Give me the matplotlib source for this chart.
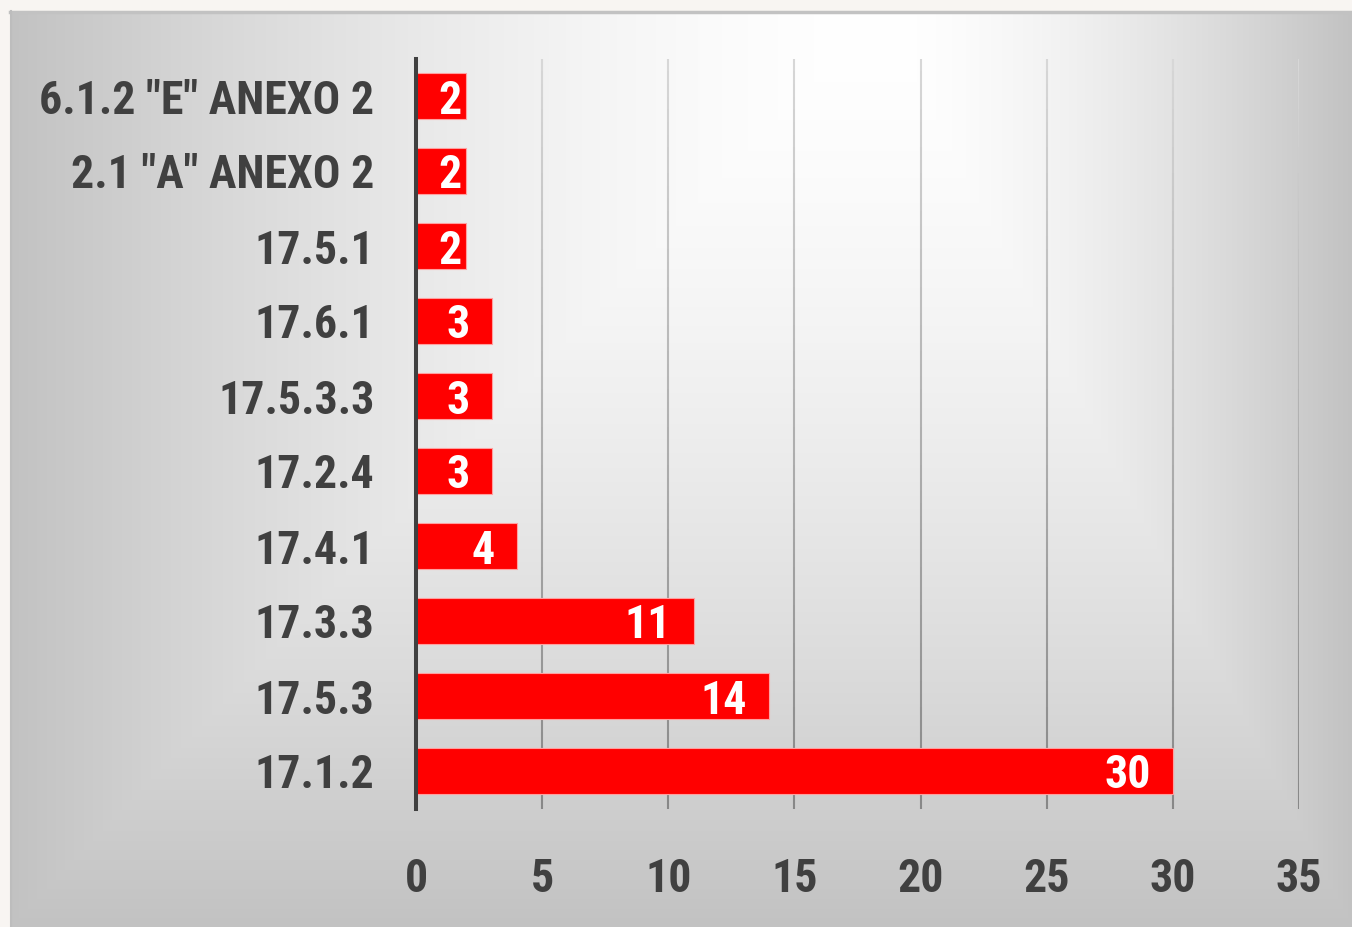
import os
import numpy as np
import matplotlib
matplotlib.use("Agg")
import matplotlib.pyplot as plt
from matplotlib import font_manager
from matplotlib.font_manager import FontProperties
from matplotlib.collections import LineCollection

# ---------- 데이터 ----------
categories = ['17.1.2', '17.5.3', '17.3.3', '17.4.1', '17.2.4',
              '17.5.3.3', '17.6.1', '17.5.1', '2.1 "A" ANEXO 2', '6.1.2 "E" ANEXO 2']
values = [30, 14, 11, 4, 3, 3, 3, 2, 2, 2]
xticks = [0, 5, 10, 15, 20, 25, 30, 35]
# ----------------------------


def pick_font():
    # 좁은 굵은 글꼴 찾기 (Calibri 대용)
    files = [f.fname for f in font_manager.fontManager.ttflist]
    prefs = ["LiberationSansNarrow-Bold.", "NotoSans-CondensedBold.",
             "NotoSans-SemiCondensedBold.", "RobotoCondensed-Bold.",
             "DejaVuSansCondensed-Bold.", "OpenSans-CondensedBold.",
             "Lato-Bold.", "NotoSans-Bold."]
    for p in prefs:
        for fn in files:
            if os.path.basename(fn).startswith(p):
                return fn, p
    return None, None


fn, tag = pick_font()
if fn:
    FP = FontProperties(fname=fn)
else:
    FP = FontProperties(family="DejaVu Sans", weight="bold")
SIZE = 33 if (tag and ("Narrow" in tag or "Condensed" in tag)) else 27
TXT = "#404040"

W, H = 1352, 927
fig = plt.figure(figsize=(W / 100, H / 100), dpi=100, facecolor="#f8f5f2")

# 배경 패널 (사각형 경로 그라데이션)
px0, py0 = 10, 11
bg = fig.add_axes([px0 / W, 0, 1 - px0 / W, 1 - py0 / H])
bg.set_axis_off()
cx = 880 - px0
pw, ph = W - px0, H - py0
xx, yy = np.meshgrid(np.arange(pw), np.arange(ph))
tx = np.where(xx < cx, (cx - xx) / cx, (xx - cx) / (pw - cx))
ty = yy / ph
t = np.clip(np.maximum(tx, ty), 0, 1) ** 1.6
g = 1.0 - t * (255 - 194) / 255
bg.imshow(np.dstack([g, g, g]), aspect="auto", extent=[0, pw, ph, 0])
bg.set_xlim(0, pw); bg.set_ylim(ph, 0)
bg.plot([0, pw], [1, 1], color="#c2c2c2", lw=2.5, clip_on=False)
bg.plot([0.5, 0.5], [0, ph], color="#bdbdbd", lw=1.5, clip_on=False)

# 메인 차트
ax = fig.add_axes([416 / W, 1 - 808.5 / H, (1299 - 416) / W, (808.5 - 58.5) / H])
ax.patch.set_alpha(0)
y = np.arange(len(categories))
ax.set_xlim(0, 35)
ax.set_ylim(-0.5, len(categories) - 0.5)

# 그리드선 (위는 옅고 아래는 진한 그라데이션)
segs, cols = [], []
ys = np.linspace(-0.5, len(categories) - 0.5, 60)
for xt in xticks[1:]:
    for i in range(len(ys) - 1):
        segs.append([(xt, ys[i]), (xt, ys[i + 1])])
        f = (ys[i] + 0.5) / len(categories)  # 0 아래 -> 1 위
        c = (0x88 + f * (0xd8 - 0x88)) / 255
        cols.append((c, c, c))
ax.add_collection(LineCollection(segs, colors=cols, linewidths=1.5, zorder=1))

ax.barh(y, values, height=0.61, color="#ff0000", edgecolor="#ffa0a0",
        linewidth=0.8, zorder=2)

for yi, v in zip(y, values):
    ax.annotate(str(v), xy=(max(v, 2.7), yi), xytext=(-16, 0),
                textcoords="offset points", ha="right", va="center_baseline",
                color="white", fontproperties=FP, fontsize=SIZE, zorder=3)

for s in ["top", "right", "bottom"]:
    ax.spines[s].set_visible(False)
ax.spines["left"].set_color(TXT)
ax.spines["left"].set_linewidth(2.9)
ax.spines["left"].set_zorder(4)

ax.set_yticks(y)
ax.set_yticklabels(categories)
ax.set_xticks(xticks)
ax.tick_params(axis="y", length=0, pad=30, labelcolor=TXT)
ax.tick_params(axis="x", length=0, pad=35, labelcolor=TXT)
for lbl in ax.get_yticklabels() + ax.get_xticklabels():
    lbl.set_fontproperties(FP)
    lbl.set_fontsize(SIZE)

fig.savefig("out.png", dpi=100, facecolor=fig.get_facecolor())
